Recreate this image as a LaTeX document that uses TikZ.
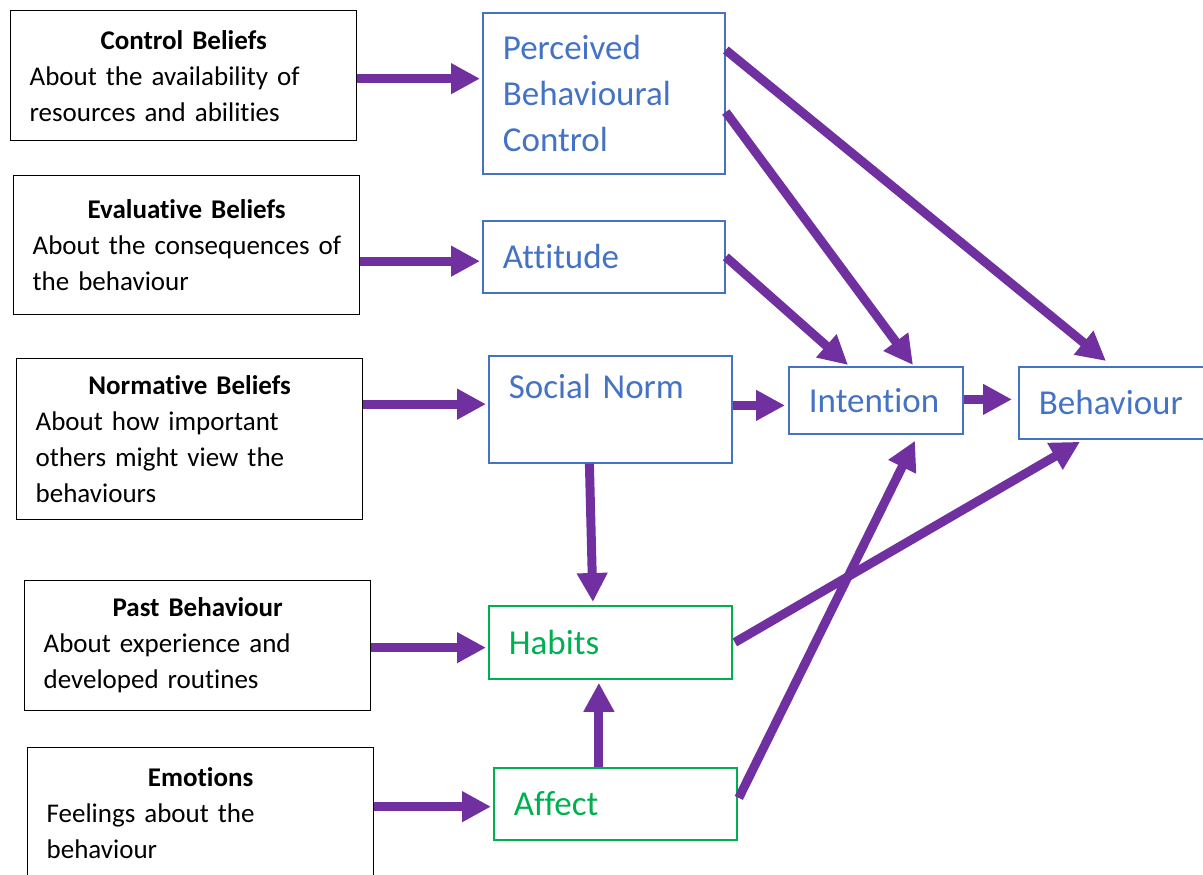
\documentclass[tikz,border=0pt]{standalone}
\usepackage{fontspec}
\setmainfont{Carlito}[Ligatures=CommonOff]
\usetikzlibrary{arrows.meta,calc}
\definecolor{ublue}{HTML}{4472C4}
\definecolor{ugreen}{HTML}{00B050}
\definecolor{upurple}{HTML}{7030A0}
\newcommand\ttl[1]{\makebox[308pt][c]{\bfseries #1}}
\tikzset{
  lbox/.style={draw=black, line width=1.3pt, anchor=north west, inner xsep=19pt, inner ysep=2pt,
    text width=308pt, align=left, font=\fontsize{27}{36}\selectfont},
  bbox/.style={draw=ublue, text=ublue, line width=1.8pt, anchor=north west, inner xsep=20pt, inner ysep=2pt,
    text width=#1, align=left, font=\fontsize{35}{46}\selectfont},
  gbox/.style={bbox=#1, draw=ugreen, text=ugreen},
  arr/.style={draw=upurple, line width=9pt, -{Triangle[length=29pt,width=29pt]}}
}
\begin{document}
\begin{tikzpicture}[x=1pt,y=-1pt]
\useasboundingbox (0,0) rectangle (1203,875);
\clip (0,0) rectangle (1203,875);
% left boxes
\node[lbox, minimum height=130pt] (cb) at (10,10) {\ttl{Control Beliefs}\\\mbox{About the availability of}\\\mbox{resources and abilities}};
\node[lbox, minimum height=139pt] (eb) at (13,175) {\ttl{Evaluative Beliefs}\\\mbox{About the consequences of}\\the behaviour};
\node[lbox, minimum height=161pt] (nb) at (16,358) {\ttl{Normative Beliefs}\\About how important\\others might view the\\behaviours};
\node[lbox, minimum height=130pt] (pb) at (24,580) {\ttl{Past Behaviour}\\About experience and\\developed routines};
\node[lbox, minimum height=130pt] (em) at (27,747) {\ttl{Emotions}\\Feelings about the\\behaviour};
% blue boxes
\node[bbox=202pt, minimum height=161pt] (pbc) at (482,12) {Perceived\\Behavioural\\Control};
\node[bbox=202pt, minimum height=72pt] (att) at (482,220) {Attitude};
\node[bbox=203pt, minimum height=107pt] (sn) at (488,355) {Social Norm\rule[-47pt]{0pt}{0pt}};
\node[bbox=134pt, minimum height=67pt] (int) at (788,366) {Intention};
\node[bbox=160pt, minimum height=72pt] (beh) at (1018,366) {Behaviour};
% green boxes
\node[gbox=203pt, minimum height=73pt] (hab) at (488,605) {Habits};
\node[gbox=203pt, minimum height=72pt] (aff) at (493,767) {Affect};
% arrows from left boxes
\draw[arr] ($(cb.east)+(0,3)$) -- ($(cb.east -| pbc.west)+(-2,3)$);
\draw[arr] ($(eb.east)+(0,16)$) -- ($(eb.east -| att.west)+(-2,16)$);
\draw[arr] ($(nb.east)+(0,-35)$) -- ($(nb.east -| sn.west)+(-2,-35)$);
\draw[arr] ($(pb.east)+(0,2)$) -- ($(pb.east -| hab.west)+(-2,2)$);
\draw[arr] ($(em.east)+(0,-6)$) -- ($(em.east -| aff.west)+(-2,-6)$);
% vertical arrows
\draw[arr] ($(sn.south)+(-21,0)$) -- ($(hab.north)+(-17.5,-3)$);
\draw[arr] ($(aff.north)+(-16.5,0)$) -- ($(hab.south)+(-11.5,3)$);
% to intention / behaviour
\draw[arr] ($(sn.east)+(0,-4)$) -- ($(sn.east -| int.west)+(-3,-4)$);
\draw[arr] ($(int.east)+(0,-1)$) -- ($(int.east -| beh.west)+(-6,-1)$);
\draw[arr] ($(pbc.north east)+(0,38)$) -- ($(beh.north west)+(88,-5)$);
\draw[arr] ($(pbc.north east)+(0,100)$) -- ($(int.north west)+(125,-1)$);
\draw[arr] (att.east) -- ($(int.north west)+(60,-1)$);
\draw[arr] ($(hab.east)+(2,0)$) -- ($(beh.south west)+(62,2)$);
\draw[arr] ($(aff.east)+(1,-6)$) -- ($(int.south west)+(127,6)$);
\end{tikzpicture}
\end{document}
